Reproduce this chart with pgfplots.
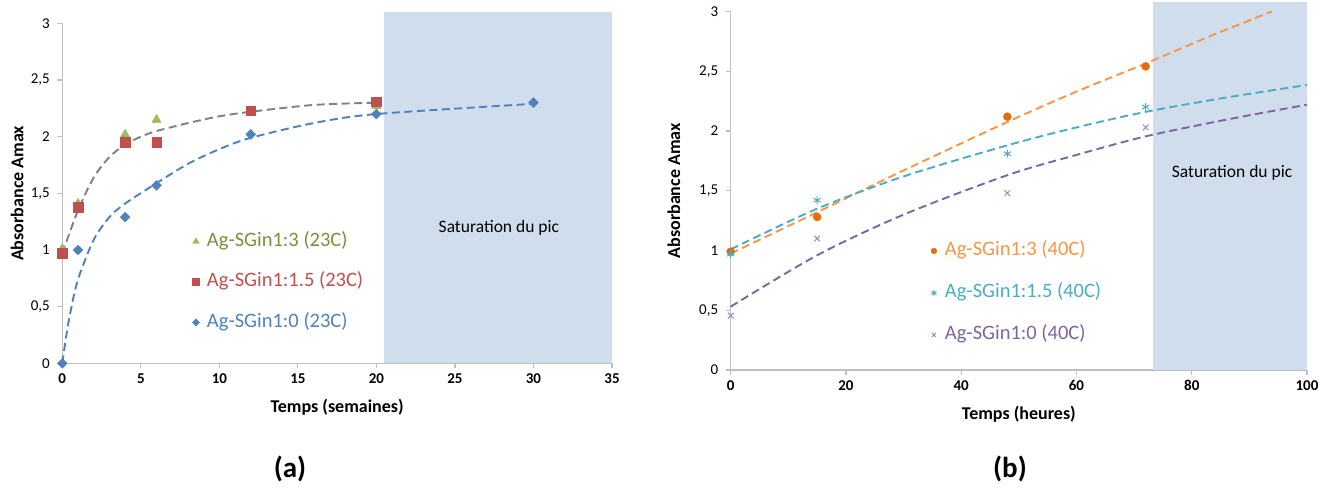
\documentclass[border=0pt]{standalone}
\usepackage{pgfplots}
\pgfplotsset{compat=1.18}
\usepackage{fontspec}
\setmainfont{Carlito}
\definecolor{axisgray}{RGB}{191,191,191}
\definecolor{shade}{RGB}{208,221,237}
\definecolor{xgreen}{RGB}{155,187,89}
\definecolor{xgreentxt}{RGB}{118,146,60}
\definecolor{xred}{RGB}{192,80,77}
\definecolor{xblue}{RGB}{79,129,189}
\definecolor{xgray}{RGB}{128,128,128}
\definecolor{xorange}{RGB}{247,150,70}
\definecolor{xorangedk}{RGB}{228,108,10}
\definecolor{xcyan}{RGB}{75,172,198}
\definecolor{xpurple}{RGB}{128,100,162}
\definecolor{xpurplelt}{RGB}{160,135,190}
\pgfplotsset{
  common/.style={
    scale only axis, clip=false,
    axis x line*=bottom, axis y line*=left,
    axis line style={draw=axisgray, line width=1.2pt},
    every tick/.style={draw=axisgray, line width=1.2pt},
    major tick length=5pt, tick align=outside,
    ymin=0, ymax=3, ytick={0,0.5,...,3},
    /pgf/number format/assume math mode=true,
    /pgf/number format/use comma,
    yticklabel style={font=\fontsize{15}{15}\selectfont, xshift=-4pt},
    xticklabel style={font=\bfseries\fontsize{15}{15}\selectfont, yshift=-2pt},
    label style={font=\bfseries\fontsize{18}{18}\selectfont},
    legend image code/.code={%
      \path[draw=none,fill=none] (0pt,-2pt) rectangle (16pt,2pt);
      \draw[mark repeat=2,mark phase=2,##1,every mark/.append style={scale=0.72}] plot coordinates {(0pt,0pt)(5pt,0pt)(10pt,0pt)};},
    legend style={draw=none, fill=none, inner sep=0pt, outer sep=0pt,
      font=\fontsize{20.5}{20.5}\selectfont,
      nodes={inner sep=0pt, text height=14pt, text depth=5pt, anchor=west}},
    legend cell align=left,
  },
  trend/.style={line width=1.9pt, dash pattern=on 8pt off 4.5pt, smooth, forget plot},
}
\begin{document}
\begin{tikzpicture}
% ---------------- (a) ----------------
\begin{axis}[common,
  at={(62.3pt,128.7pt)}, anchor=south west,
  width=549.7pt, height=339.9pt,
  xmin=0, xmax=35, xtick={0,5,...,35},
  xlabel={Temps (semaines)}, ylabel={Absorbance Amax},
  xlabel style={at={(axis description cs:0.5,-0.1286)}, anchor=center},
  ylabel style={at={(axis description cs:-0.0824,0.5)}, anchor=center, rotate=0},
  legend style={at={(axis description cs:0.2341,0.239)}, anchor=west, row sep=21.5pt},
]
\addplot[draw=none, fill=shade, forget plot] coordinates {(20.5,0) (35,0) (35,3.1) (20.5,3.1)} -- cycle;
\addplot[trend, xgray] coordinates {(0,0.97) (1,1.35) (2,1.64) (3,1.82) (4,1.93) (5,2.0) (6,2.05) (8,2.12) (10,2.18) (12,2.22) (16,2.28) (20,2.30)};
\addplot[trend, xblue] coordinates {(0,0) (0.25,0.24) (0.5,0.44) (1,0.74) (2,1.09) (3,1.29) (4,1.41) (6,1.59) (8,1.76) (10,1.89) (12,1.99) (16,2.12) (20,2.20) (30,2.29)};
\addplot[only marks, mark=triangle*, mark size=5.3pt, color=xgreen] coordinates {(0,1.01) (1,1.41) (4,2.02) (6,2.15) (20,2.27)};
\addlegendentry{\textcolor{xgreentxt}{Ag-SGin1:3 (23C)}}
\addplot[only marks, mark=square*, mark size=4.8pt, color=xred] coordinates {(0,0.97) (1,1.38) (4,1.95) (6,1.95) (12,2.23) (20,2.31)};
\addlegendentry{\textcolor{xred}{Ag-SGin1:1.5 (23C)}}
\addplot[only marks, mark=square*, mark size=3.5pt, mark options={rotate=45}, color=xblue] coordinates {(0,0) (1,1.0) (4,1.29) (6,1.57) (12,2.02) (20,2.20) (30,2.30)};
\addlegendentry{\textcolor{xblue}{Ag-SGin1:0 (23C)}}
\node[font=\fontsize{17.5}{17.5}\selectfont] at (axis cs:27.8,1.2) {Saturation du pic};
\end{axis}
% ---------------- (b) ----------------
\begin{axis}[common,
  at={(730.7pt,122pt)}, anchor=south west,
  width=576.3pt, height=358.5pt,
  xmin=0, xmax=100, xtick={0,20,...,100},
  xlabel={Temps (heures)}, ylabel={Absorbance Amax},
  xlabel style={at={(axis description cs:0.5,-0.1227)}, anchor=center},
  ylabel style={at={(axis description cs:-0.0985,0.5)}, anchor=center, rotate=0},
  legend style={at={(axis description cs:0.344,0.2148)}, anchor=west, row sep=23pt},
]
\addplot[draw=none, fill=shade, forget plot] coordinates {(73.3,0) (100,0) (100,3.08) (73.3,3.08)} -- cycle;
\addplot[trend, xorange] coordinates {(0,0.975) (15,1.32) (30,1.67) (48,2.075) (60,2.33) (72,2.565) (83,2.79) (93.9,3.0)};
\addplot[trend, xcyan] coordinates {(0,1.01) (15,1.35) (30,1.62) (48,1.88) (60,2.03) (72,2.16) (86,2.28) (100,2.385)};
\addplot[trend, xpurple] coordinates {(0,0.53) (15,0.96) (30,1.30) (48,1.63) (60,1.80) (72,1.955) (86,2.095) (100,2.22)};
\addplot[only marks, mark=*, mark size=4pt, color=xorangedk] coordinates {(0,0.99) (15,1.28) (48,2.12) (72,2.54)};
\addlegendentry{\textcolor{xorange}{Ag-SGin1:3 (40C)}}
\addplot[only marks, mark=asterisk, mark size=4pt, mark options={line width=1pt}, color=xcyan] coordinates {(0,0.97) (15,1.42) (48,1.81) (72,2.20)};
\addlegendentry{\textcolor{xcyan}{Ag-SGin1:1.5 (40C)}}
\addplot[only marks, mark=x, mark size=4pt, mark options={line width=1pt}, color=xpurplelt] coordinates {(0,0.455) (15,1.10) (48,1.48) (72,2.03)};
\addlegendentry{\textcolor{xpurple}{Ag-SGin1:0 (40C)}}
\node[font=\fontsize{17.5}{17.5}\selectfont] at (axis cs:87,1.65) {Saturation du pic};
\end{axis}
\node[font=\bfseries\fontsize{29}{29}\selectfont] at (290pt,23pt) {(a)};
\node[font=\bfseries\fontsize{29}{29}\selectfont] at (1010pt,23pt) {(b)};
\pgfresetboundingbox
\useasboundingbox (0pt,0pt) rectangle (1335pt,492pt);
\end{tikzpicture}
\end{document}
